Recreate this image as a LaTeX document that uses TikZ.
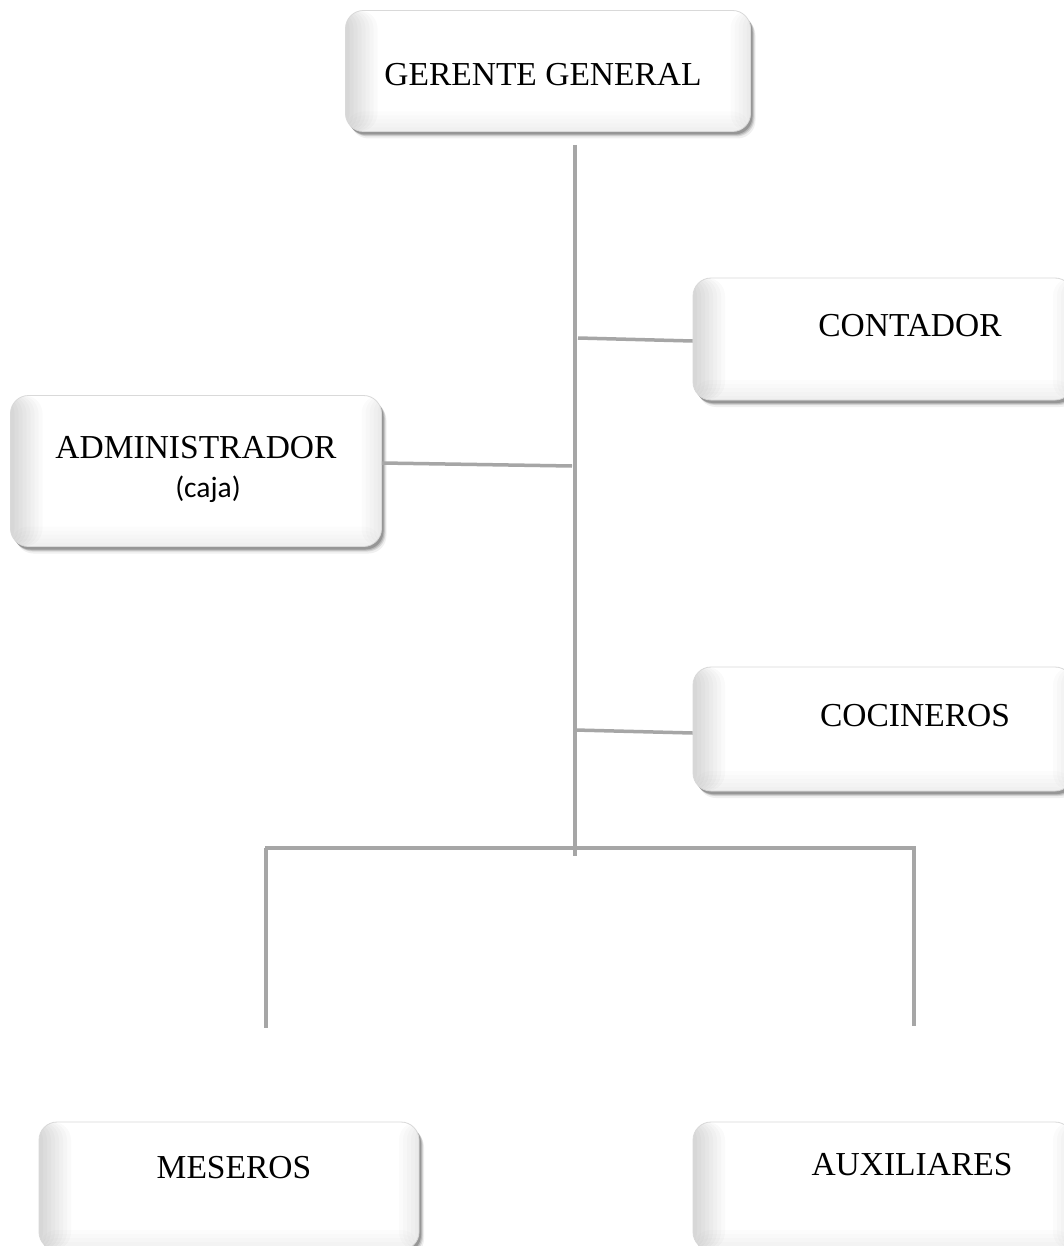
\documentclass[tikz,border=0pt]{standalone}
\usepackage{fontspec}
\setmainfont{Liberation Serif}
\newfontfamily\calib{Carlito}
\usetikzlibrary{shadows}
\tikzset{
  box/.style={rectangle, rounded corners=18pt, draw=black!15, line width=0.8pt,
    fill=white,
    path picture={
      \foreach \w in {4,8,...,32} {
        \fill[black, opacity=0.02]
          (path picture bounding box.north west) rectangle ([xshift=\w pt]path picture bounding box.south west);
      }
      \foreach \w in {4,8,...,20} {
        \fill[black, opacity=0.014]
          ([xshift=-\w pt]path picture bounding box.north east) rectangle (path picture bounding box.south east);
        \fill[black, opacity=0.01]
          ([yshift=\w pt]path picture bounding box.south west) rectangle (path picture bounding box.south east);
      }
    },
    drop shadow={shadow xshift=5pt, shadow yshift=-7pt, fill=black, opacity=0.06},
    drop shadow={shadow xshift=4pt, shadow yshift=-5pt, fill=black, opacity=0.10},
    drop shadow={shadow xshift=3pt, shadow yshift=-4pt, fill=black, opacity=0.14},
    drop shadow={shadow xshift=2pt, shadow yshift=-3pt, fill=black, opacity=0.18},
    inner sep=0pt},
  lbl/.style={font=\fontsize{33.5}{36}\selectfont, inner sep=0pt},
  conn/.style={draw=black!35, line width=3.5pt}
}
\begin{document}
\begin{tikzpicture}[x=1pt,y=-1pt]
\useasboundingbox (0,0) rectangle (1064,1246);
\clip (0,0) rectangle (1064,1246);
\fill[white] (0,0) rectangle (1064,1246);
% boxes
\node[box, minimum width=405pt, minimum height=121pt] (gg) at (548,71) {};
\node[box, minimum width=380pt, minimum height=122pt] (cont) at (883,339) {};
\node[box, minimum width=371pt, minimum height=151pt] (adm) at (196,471) {};
\node[box, minimum width=380pt, minimum height=124pt] (coc) at (883,729) {};
\node[box, minimum width=380pt, minimum height=128pt] (mes) at (229,1186) {};
\node[box, minimum width=380pt, minimum height=128pt] (aux) at (883,1186) {};
% texts
\node[lbl] (tgg) at (543,75) {GERENTE GENERAL};
\node[lbl] (tcont) at (910,326) {CONTADOR};
\node[lbl] (tadm) at (196,448) {ADMINISTRADOR};
\node[inner sep=0pt, font=\calib\fontsize{29.5}{32}\selectfont] (tcaja) at (208,489) {(caja)};
\node[lbl] (tcoc) at (915,716) {COCINEROS};
\node[lbl] (tmes) at (234,1168) {MESEROS};
\node[lbl] (taux) at (912,1165) {AUXILIARES};
% trunk coordinates
\coordinate (top) at (575,145);
\coordinate (bot) at (575,856);
\coordinate (jc) at (578,338);
\coordinate (ja) at (572,466);
\coordinate (jk) at (575,730);
\coordinate (hl) at (265,848);
\coordinate (hr) at (916,848);
\coordinate (dl) at (266,1028);
\coordinate (dr) at (914,1026);
\draw[conn] (top) -- (bot);
\draw[conn] (jc) -- (cont.west |- 0,341);
\draw[conn] (ja) -- (adm.east |- 0,463);
\draw[conn] (jk) -- (coc.west |- 0,733);
\draw[conn] (hl) -- (hr);
\draw[conn] (266,848) -- (dl);
\draw[conn] (914,848) -- (dr);
\end{tikzpicture}
\end{document}
